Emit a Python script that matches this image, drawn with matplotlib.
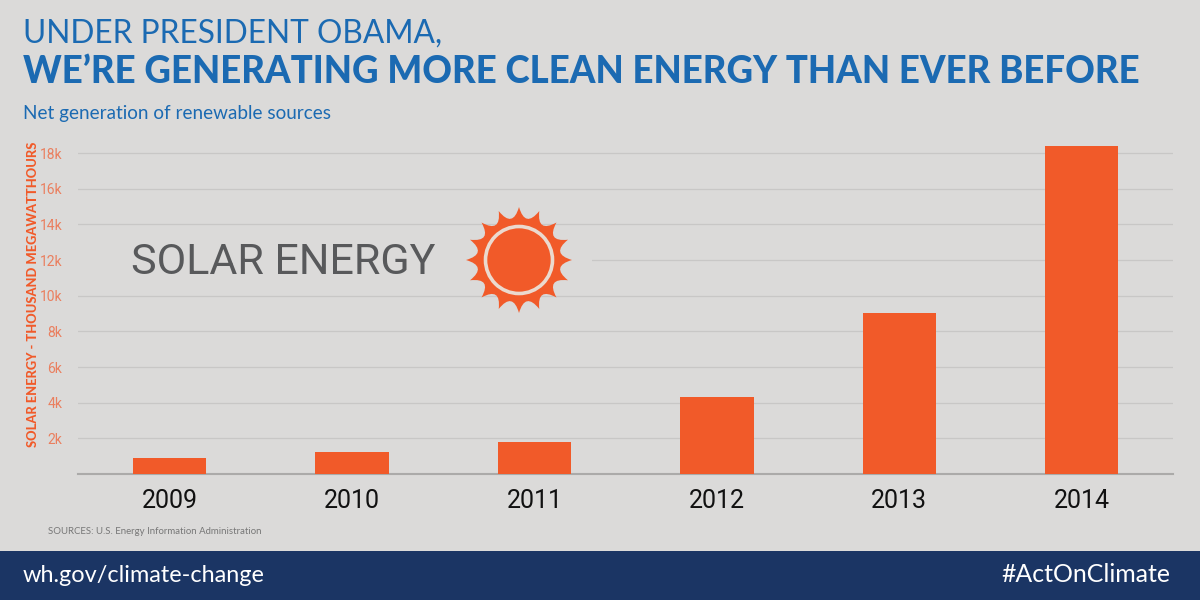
import numpy as np
import matplotlib
matplotlib.use("Agg")
import matplotlib.pyplot as plt
from matplotlib.path import Path
from matplotlib.patches import PathPatch, Circle, Rectangle

years = ["2009", "2010", "2011", "2012", "2013", "2014"]
solar_gwh = [900, 1220, 1820, 4330, 9040, 18400]
y_ticks = [2000, 4000, 6000, 8000, 10000, 12000, 14000, 16000, 18000]
y_tick_labels = ["2k", "4k", "6k", "8k", "10k", "12k", "14k", "16k", "18k"]

BG = "#DBDAD9"
BLUE = "#1B6AB2"
ORANGE = "#F15A29"
NAVY = "#1B3564"
W, H = 1200, 600

fig = plt.figure(figsize=(W / 100, H / 100), dpi=100, facecolor=BG)

# Bar chart, placed on the figure in pixel terms
ax = fig.add_axes([78.3 / W, (H - 474) / H, (1173 - 78.3) / W, (474 - 135) / H], facecolor="none")
x = np.arange(len(years))
ax.bar(x, solar_gwh, width=0.402, color=ORANGE, zorder=3)
ax.set_xlim(-0.5, 5.5)
ax.set_ylim(0, 339 / 17.83 * 1000)
ax.set_yticks(y_ticks, y_tick_labels)
ax.set_xticks(x, years)
ax.grid(axis="y", color="#C8C7C6", lw=0.9, zorder=0)
ax.tick_params(axis="y", length=0, pad=11.5, labelsize=10, labelcolor="#EA7F5F")
ax.tick_params(axis="x", length=0, pad=11, labelsize=18, labelcolor="#111111")
for lab in ax.get_yticklabels():
    lab.set_family("Roboto")
for lab in ax.get_xticklabels():
    lab.set_family("Roboto")
for name, spine in ax.spines.items():
    spine.set_visible(name == "bottom")
ax.spines["bottom"].set_color("#ABAAA9")
ax.spines["bottom"].set_linewidth(1.5)

# Overlay in pixel coordinates for the decoration
ov = fig.add_axes([0, 0, 1, 1], facecolor="none")
ov.set_xlim(0, W)
ov.set_ylim(H, 0)
ov.axis("off")

# Clear the 12k gridline behind the solar label
ov.add_patch(Rectangle((70, 250), 522, 20, fc=BG, ec="none", zorder=1))
ov.text(131, 262, "SOLAR ENERGY", fontsize=31, family="Roboto", color="#58595B",
        va="center", ha="left", zorder=2)

# Sun: scalloped disc with sixteen points and a pale ring
cx, cy = 519, 260
n_rays = 16
r_tip, r_ctrl = 53, 32
verts, codes = [], []
for i in range(n_rays):
    a0 = 2 * np.pi * i / n_rays
    am = a0 + np.pi / n_rays
    a1 = a0 + 2 * np.pi / n_rays
    if i == 0:
        verts.append((cx + r_tip * np.cos(a0), cy + r_tip * np.sin(a0)))
        codes.append(Path.MOVETO)
    verts += [(cx + r_ctrl * np.cos(am), cy + r_ctrl * np.sin(am)),
              (cx + r_tip * np.cos(a1), cy + r_tip * np.sin(a1))]
    codes += [Path.CURVE3, Path.CURVE3]
verts.append(verts[0])
codes.append(Path.CLOSEPOLY)
ov.add_patch(PathPatch(Path(verts, codes), fc=ORANGE, ec="none", zorder=3))
ov.add_patch(Circle((cx, cy), 33.5, fc=ORANGE, ec="#EBD9CE", lw=2.6, zorder=4))

# Heading block
ov.text(23, 34, "UNDER PRESIDENT OBAMA,", fontsize=22.8, family="Lato", color=BLUE,
        va="center", ha="left")
ov.text(23, 72, "WE\u2019RE GENERATING MORE CLEAN ENERGY THAN EVER BEFORE", fontsize=26.4,
        family="Lato", weight="black", color=BLUE, va="center", ha="left")
ov.text(23, 113, "Net generation of renewable sources", fontsize=13.6, family="Lato",
        color=BLUE, va="center", ha="left")

# Axis title and source line
ov.text(33, 294.5, "SOLAR ENERGY - THOUSAND MEGAWATTHOURS", fontsize=9.3, family="Lato",
        weight="black", color=ORANGE, rotation=90, va="center", ha="center")
ov.text(48, 532, "SOURCES: U.S. Energy Information Administration", fontsize=6.9,
        family="Lato", color="#777777", va="center", ha="left")

# Footer band
ov.add_patch(Rectangle((0, 551), W, 49, fc=NAVY, ec="none", zorder=1))
ov.text(23, 575, "wh.gov/climate-change", fontsize=16.9, family="Lato", color="white",
        va="center", ha="left", zorder=2)
ov.text(1170, 575, "#ActOnClimate", fontsize=17.9, family="Lato", color="white",
        va="center", ha="right", zorder=2)

fig.savefig("out.png", dpi=100, facecolor=BG)
